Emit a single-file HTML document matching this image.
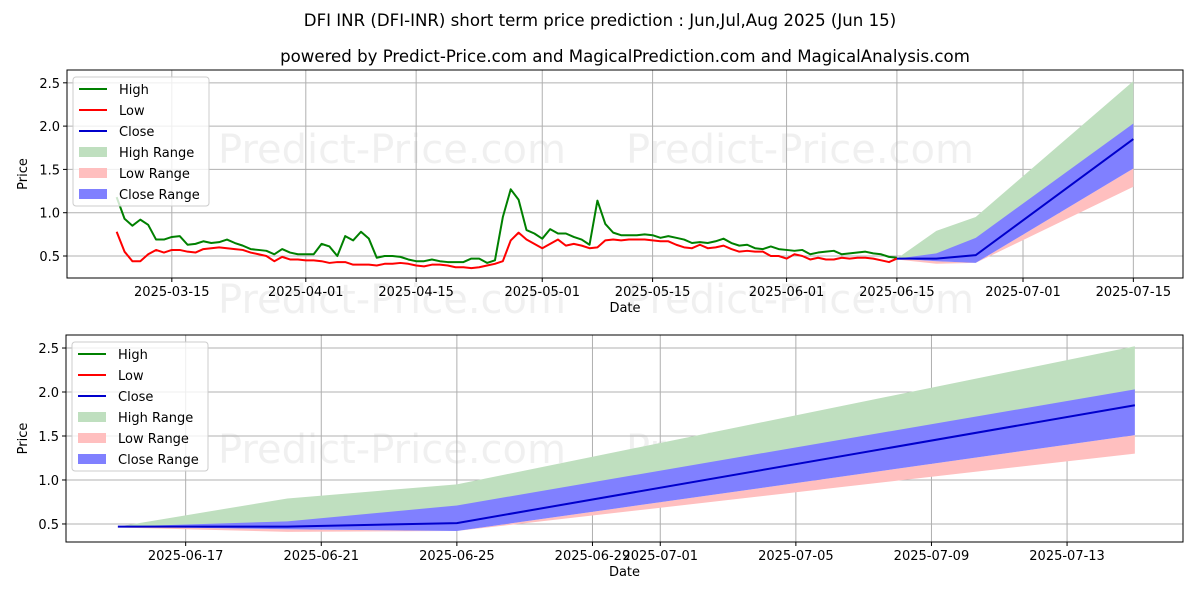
<!DOCTYPE html>
<html><head><meta charset="utf-8"><style>
body{margin:0;background:#fff}
svg{display:block;font-family:"DejaVu Sans","Liberation Sans",sans-serif}
</style></head><body>
<svg id="chart" width="1200" height="600" viewBox="0 0 1200 600" xmlns="http://www.w3.org/2000/svg">
<rect width="1200" height="600" fill="#fff"/>
<text x="600" y="26" font-size="16.6" text-anchor="middle">DFI INR (DFI-INR) short term price prediction : Jun,Jul,Aug 2025 (Jun 15)</text>
<text x="625" y="62" font-size="16.6" text-anchor="middle">powered by Predict-Price.com and MagicalPrediction.com and MagicalAnalysis.com</text>
<g id="top"></g>
<g id="bot"></g>
</svg>
<script>
// Historical data (daily from 2025-03-08 to 2025-06-15)
const highVals=[1.18,0.93,0.85,0.92,0.86,0.69,0.69,0.72,0.73,0.63,0.64,0.67,0.65,0.66,0.69,0.65,0.62,0.58,0.57,0.56,0.52,0.58,0.54,0.52,0.52,0.52,0.64,0.61,0.50,0.73,0.68,0.78,0.70,0.48,0.50,0.50,0.49,0.46,0.44,0.44,0.46,0.44,0.43,0.43,0.43,0.47,0.47,0.42,0.45,0.95,1.27,1.15,0.80,0.76,0.70,0.81,0.76,0.76,0.72,0.69,0.63,1.14,0.87,0.77,0.74,0.74,0.74,0.75,0.74,0.71,0.73,0.71,0.69,0.65,0.66,0.65,0.67,0.70,0.65,0.62,0.63,0.59,0.58,0.61,0.58,0.57,0.56,0.57,0.52,0.54,0.55,0.56,0.52,0.53,0.54,0.55,0.53,0.52,0.49,0.48];
const lowVals=[0.78,0.55,0.44,0.44,0.52,0.57,0.54,0.57,0.57,0.55,0.54,0.58,0.59,0.60,0.59,0.58,0.57,0.54,0.52,0.50,0.44,0.49,0.46,0.46,0.45,0.45,0.44,0.42,0.43,0.43,0.40,0.40,0.40,0.39,0.41,0.41,0.42,0.41,0.39,0.38,0.40,0.40,0.39,0.37,0.37,0.36,0.37,0.39,0.41,0.44,0.68,0.77,0.69,0.64,0.59,0.64,0.69,0.62,0.64,0.62,0.59,0.60,0.68,0.69,0.68,0.69,0.69,0.69,0.68,0.67,0.67,0.63,0.60,0.59,0.63,0.59,0.60,0.62,0.58,0.55,0.56,0.55,0.55,0.50,0.50,0.47,0.52,0.50,0.46,0.48,0.46,0.46,0.48,0.47,0.48,0.48,0.47,0.45,0.43,0.47];
// Forecast (day offsets from 2025-06-15)
const fcDays=[0,5,10,30];
const fcClose=[0.47,0.47,0.51,1.85];
const fcCloseUpper=[0.47,0.53,0.71,2.03];
const fcCloseLower=[0.47,0.44,0.42,1.51];
const fcHighUpper=[0.47,0.79,0.95,2.52];
const fcLowLower=[0.46,0.41,0.42,1.30];
const topTickLabels=["2025-03-15","2025-04-01","2025-04-15","2025-05-01","2025-05-15","2025-06-01","2025-06-15","2025-07-01","2025-07-15"];
const topTickDays=[0,17,31,47,61,78,92,108,122];
const botTickLabels=["2025-06-17","2025-06-21","2025-06-25","2025-06-29","2025-07-01","2025-07-05","2025-07-09","2025-07-13"];
const botTickDays=[2,6,10,14,16,20,24,28];
const yTicks=[0.5,1.0,1.5,2.0,2.5];

const NS="http://www.w3.org/2000/svg";
function mk(parent,tag,attrs){const e=document.createElementNS(NS,tag);for(const k in attrs)e.setAttribute(k,attrs[k]);parent.appendChild(e);return e;}

function panel(g,cfg){
  const {L,R,T,B,xmin,xmax,ymin,ymax}=cfg;
  const X=d=>L+(d-xmin)/(xmax-xmin)*(R-L);
  const Y=v=>B-(v-ymin)/(ymax-ymin)*(B-T);
  for(const wy of cfg.wm){for(const wx of [392,800]){
    const t=mk(g,'text',{x:wx,y:wy,'font-size':40,'text-anchor':'middle',fill:'#000','fill-opacity':0.06});
    
    
    t.textContent='Predict-Price.com';}}
  cfg.ticks.forEach((d,i)=>{
    const l=mk(g,'line',{x1:X(d),x2:X(d),y1:T,y2:B,stroke:'#b0b0b0','stroke-width':1});
    
    
    mk(g,'line',{x1:X(d),x2:X(d),y1:B,y2:B+4,stroke:'#000'});
    const t=mk(g,'text',{x:X(d),y:B+18,'font-size':13,'text-anchor':'middle'});
    
    
    t.textContent=cfg.labels[i];
  });
  yTicks.forEach(v=>{
    const l=mk(g,'line',{x1:L,x2:R,y1:Y(v),y2:Y(v),stroke:'#b0b0b0','stroke-width':1});
    
    
    mk(g,'line',{x1:L-4,x2:L,y1:Y(v),y2:Y(v),stroke:'#000'});
    const t=mk(g,'text',{x:L-7,y:Y(v)+5,'font-size':13,'text-anchor':'end'});
    
    
    t.textContent=v.toFixed(1);
  });
  const off=cfg.fcOffset;
  const band=(up,lo,fill,name)=>{
    let p=fcDays.map((d,i)=>X(d+off)+','+Y(up[i]));
    p=p.concat(fcDays.map((d,i)=>X(d+off)+','+Y(lo[i])).reverse());
    const e=mk(g,'polygon',{points:p.join(' '),fill});
    
    
  };
  band(fcHighUpper,fcClose,'#bfdfbf','high-range-band');
  band(fcCloseLower,fcLowLower,'#ffbfbf','low-range-band');
  band(fcCloseUpper,fcCloseLower,'#8080ff','close-range-band');
  if(cfg.hist){
    const line=(vals,col,name)=>{
      const e=mk(g,'polyline',{points:vals.map((v,i)=>X(i-7)+','+Y(v)).join(' '),fill:'none',stroke:col,'stroke-width':2,'stroke-linejoin':'round'});
      
      
    };
    line(highVals,'#008000','high-line');
    line(lowVals,'#ff0000','low-line');
  }
  const c=mk(g,'polyline',{points:fcDays.map((d,i)=>X(d+off)+','+Y(fcClose[i])).join(' '),fill:'none',stroke:'#0000cc','stroke-width':2});
  
  
  const fr=mk(g,'rect',{x:L,y:T,width:R-L,height:B-T,fill:'none',stroke:'#000','stroke-width':1});
  
  
  const xl=mk(g,'text',{x:(L+R)/2,y:B+34,'font-size':13,'text-anchor':'middle'});
  
  
  xl.textContent='Date';
  const yl=mk(g,'text',{x:0,y:0,'font-size':13,'text-anchor':'middle',transform:`translate(27,${(T+B)/2}) rotate(-90)`});
  
  
  yl.textContent='Price';
  const lg=mk(g,'g',{});
  
  
  mk(lg,'rect',{x:L+6,y:T+7,width:136,height:129,rx:3,fill:'#fff','fill-opacity':0.8,stroke:'#ccc'});
  const items=[['High','#008000','l'],['Low','#ff0000','l'],['Close','#0000cc','l'],['High Range','#bfdfbf','r'],['Low Range','#ffbfbf','r'],['Close Range','#8080ff','r']];
  items.forEach((it,i)=>{
    const yy=T+19+i*21;
    const eg=mk(lg,'g',{});
    
    
    if(it[2]=='l')mk(eg,'line',{x1:L+12,x2:L+40,y1:yy,y2:yy,stroke:it[1],'stroke-width':2});
    else mk(eg,'rect',{x:L+12,y:yy-5,width:28,height:10,fill:it[1]});
    const t=mk(eg,'text',{x:L+52,y:yy+5,'font-size':13});
    t.textContent=it[0];
  });
}
panel(document.getElementById('top'),{L:67,R:1183,T:70,B:278,xmin:-13.3,xmax:128.3,ymin:0.246,ymax:2.648,ticks:topTickDays,labels:topTickLabels,fcOffset:92,hist:true,wm:[163,313]});
panel(document.getElementById('bot'),{L:66,R:1183,T:335,B:542,xmin:-1.53,xmax:31.42,ymin:0.295,ymax:2.648,ticks:botTickDays,labels:botTickLabels,fcOffset:0,hist:false,wm:[463]});
</script>
</body></html>
